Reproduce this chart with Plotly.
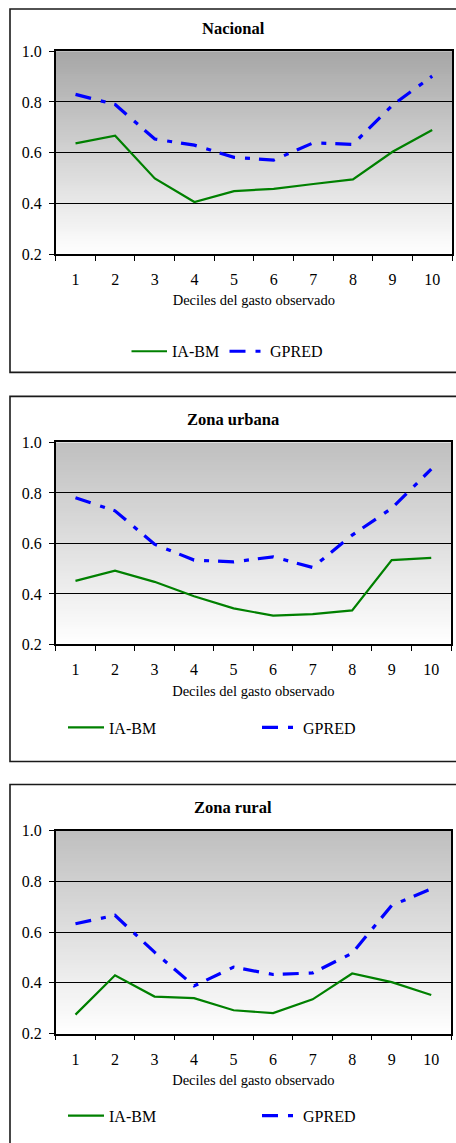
import plotly.graph_objects as go

W, H = 456, 1143

# ---------------- data ----------------
deciles = [str(i) for i in range(1, 11)]
panel_titles = ["Nacional", "Zona urbana", "Zona rural"]
series_names = ["IA-BM", "GPRED"]
ia_bm_nacional = [0.637, 0.667, 0.499, 0.406, 0.449, 0.458, 0.477, 0.495, 0.604, 0.690]
gpred_nacional = [0.830, 0.790, 0.654, 0.630, 0.582, 0.571, 0.639, 0.633, 0.788, 0.902]
ia_bm_urbana = [0.452, 0.492, 0.448, 0.391, 0.343, 0.314, 0.320, 0.335, 0.534, 0.543]
gpred_urbana = [0.781, 0.729, 0.597, 0.534, 0.527, 0.547, 0.505, 0.633, 0.739, 0.894]
ia_bm_rural = [0.275, 0.430, 0.346, 0.340, 0.292, 0.281, 0.335, 0.437, 0.403, 0.352]
gpred_rural = [0.633, 0.666, 0.521, 0.388, 0.462, 0.433, 0.439, 0.517, 0.705, 0.770]
x_title = "Deciles del gasto observado"
y_tickvals = [0.2, 0.4, 0.6, 0.8, 1.0]
y_ticktext = ["0.2", "0.4", "0.6", "0.8", "1.0"]

ia_series = [ia_bm_nacional, ia_bm_urbana, ia_bm_rural]
gp_series = [gpred_nacional, gpred_urbana, gpred_rural]

# ---------------- layout geometry (pixels of the target picture) ----------------
FONT = "'Liberation Serif', 'Times New Roman', Times, serif"
panels = [
    dict(box=(10, 8.8, 458, 372), plot=(55.7, 51, 452, 254), title_y=28,
         leg_ia=(126.5, 351), leg_gp=(224.5, 351), iw=35.5, top_gray=166),
    dict(box=(10, 396, 458, 761), plot=(55.7, 442, 451, 644), title_y=419,
         leg_ia=(63, 727), leg_gp=(257, 727), iw=36, top_gray=191),
    dict(box=(10, 784, 458, 1160), plot=(55.7, 830, 451, 1033), title_y=807,
         leg_ia=(63, 1115), leg_gp=(257, 1115), iw=36, top_gray=191),
]

# observed vertical mapping of the capture: shown_y = Y_OFF + Y_SCALE * figure_y
Y_OFF, Y_SCALE = 7.8, 0.9847


def px(x):
    return x / W


def py(y):
    return 1 - ((y - Y_OFF) / Y_SCALE) / H


fig = go.Figure()
shapes = []
annotations = []
layout = dict(
    width=W, height=H,
    margin=dict(l=0, r=0, t=0, b=0),
    paper_bgcolor="white",
    plot_bgcolor="rgba(0,0,0,0)",
    font=dict(family=FONT, color="black", size=16),
    hovermode=False,
    showlegend=True,
)

N_STRIPS = 80
for k, p in enumerate(panels):
    sfx = "" if k == 0 else str(k + 1)
    xa, ya = "x" + sfx, "y" + sfx
    lg_ia = "legend" if k == 0 else "legend" + str(2 * k + 1)
    lg_gp = "legend" + str(2 * k + 2)
    x0, y0, x1, y1 = p["plot"]

    fig.add_trace(go.Scatter(
        x=deciles, y=ia_series[k], name=series_names[0], mode="lines",
        line=dict(color="#008000", width=2.2), showlegend=True,
        xaxis=xa, yaxis=ya, legend=lg_ia))
    fig.add_trace(go.Scatter(
        x=deciles, y=gp_series[k], name=series_names[1], mode="lines",
        line=dict(color="#0000FF", width=3.2, dash="16px,10px,5px,9px"),
        showlegend=True, xaxis=xa, yaxis=ya, legend=lg_gp))

    layout["xaxis" + sfx] = dict(
        domain=[px(x0), px(x1)], anchor=ya, type="category",
        categoryorder="array", categoryarray=deciles, range=[-0.5, 9.5],
        tickson="boundaries", ticks="outside", ticklen=5, tickwidth=1.3,
        tickcolor="black", showline=True, linecolor="black", linewidth=1.5,
        mirror=True, showgrid=False, zeroline=False,
        tickfont=dict(family=FONT, size=16), ticklabelstandoff=10,
        title=dict(text=x_title, font=dict(family=FONT, size=14.5), standoff=8),
        fixedrange=True,
    )
    layout["yaxis" + sfx] = dict(
        domain=[py(y1), py(y0)], anchor=xa, range=[0.2, 1.0],
        tickvals=y_tickvals, ticktext=y_ticktext,
        ticks="outside", ticklen=5, tickwidth=1.3, tickcolor="black",
        showline=True, linecolor="black", linewidth=1.5, mirror=True,
        showgrid=True, gridcolor="black", gridwidth=1.1, zeroline=False,
        tickfont=dict(family=FONT, size=16), ticklabelstandoff=4,
        fixedrange=True,
    )

    # gradient background of the plot area
    top = p["top_gray"]
    for i in range(N_STRIPS):
        t = (i + 0.5) / N_STRIPS  # 0 bottom -> 1 top
        g = int(round(255 - (255 - top) * t))
        shapes.append(dict(
            type="rect", xref=xa + " domain", yref=ya + " domain",
            x0=0, x1=1, y0=i / N_STRIPS, y1=min(1.0, (i + 1.6) / N_STRIPS),
            fillcolor=f"rgb({g},{g},{g})", line=dict(width=0), layer="below"))

    # outer chart box
    bx0, by0, bx1, by1 = p["box"]
    shapes.append(dict(
        type="rect", xref="paper", yref="paper",
        x0=px(bx0), x1=px(bx1), y0=py(by1), y1=py(by0),
        line=dict(color="#1a1a1a", width=1.6), fillcolor="rgba(0,0,0,0)",
        layer="below"))

    annotations.append(dict(
        text="<b>" + panel_titles[k] + "</b>", xref="paper", yref="paper",
        x=px(233), y=py(p["title_y"]), xanchor="center", yanchor="middle",
        showarrow=False, font=dict(family=FONT, size=16.5)))

    for lg, (lx, ly) in ((lg_ia, p["leg_ia"]), (lg_gp, p["leg_gp"])):
        layout[lg] = dict(
            visible=True,
            orientation="h", x=px(lx), y=py(ly),
            xanchor="left", yanchor="middle", bgcolor="rgba(0,0,0,0)",
            borderwidth=0, font=dict(family=FONT, size=16),
            itemwidth=p["iw"],
        )

layout["shapes"] = shapes
layout["annotations"] = annotations
fig.update_layout(**layout)

POST = (
    "document.documentElement.style.margin='0px';"
    "document.body.style.margin='0px';"
)
fig.write_html("out.html", config={"displayModeBar": False}, post_script=POST)
